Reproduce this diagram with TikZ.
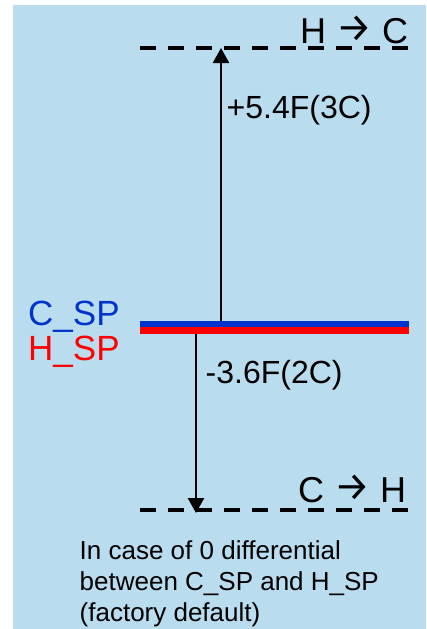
\documentclass[tikz,border=0pt]{standalone}
\usepackage{fontspec}
\setmainfont{Liberation Sans}
\newfontfamily\arrowfont{Fira Sans}
\usetikzlibrary{arrows.meta}
\definecolor{bgblue}{RGB}{185,220,238}
\definecolor{spblue}{RGB}{0,51,204}
\definecolor{spred}{RGB}{255,0,0}
\newcommand{\bigarrow}{{\arrowfont\fontsize{40}{48}\selectfont\raisebox{2pt}{→}}}
\begin{document}
\begin{tikzpicture}[x=1pt,y=-1pt,
  levelline/.style={line width=4pt, dash pattern=on 16pt off 12pt},
  bluebar/.style={line width=6.3pt, spblue},
  redbar/.style={line width=6.7pt, spred},
  arr/.style={line width=2.4pt, -{Triangle[width=16pt,length=15pt]}},
  lbl/.style={inner sep=0pt, anchor=base west},
  big/.style={font=\fontsize{36}{43}\selectfont},
  mid/.style={font=\fontsize{32}{38}\selectfont},
  sp/.style={font=\fontsize{35}{42}\selectfont},
  note/.style={font=\fontsize{26}{31}\selectfont, align=left}]
\useasboundingbox (0,0) rectangle (426,629);
\fill[bgblue] (13,5) rectangle (426,629);
% levels
\coordinate (topL) at (140,48);
\coordinate (topR) at (408,48);
\coordinate (botL) at (140,510);
\coordinate (botR) at (408,510);
\coordinate (barL) at (140,324.2);
\coordinate (barR) at (409,324.2);
\coordinate (rbarL) at (140,330.7);
\coordinate (rbarR) at (409,330.7);
\coordinate (upStart) at (221,324);
\coordinate (upEnd) at (221,48);
\coordinate (dnStart) at (196,327);
\coordinate (dnEnd) at (196,513);
\draw[levelline] (topL) -- (topR);
\draw[levelline] (botL) -- (botR);
\draw[arr] (upStart) -- (upEnd);
\draw[arr] (dnStart) -- (dnEnd);
\draw[bluebar] (barL) -- (barR);
\draw[redbar] (rbarL) -- (rbarR);
% labels
\node[lbl, big] (hc) at (300,43) {H \bigarrow{} C};
\node[lbl, big] (ch) at (298,502) {C \bigarrow{} H};
\node[lbl, mid] (up) at (226.5,118) {+5.4F(3C)};
\node[lbl, mid] (dn) at (205.5,383) {-3.6F(2C)};
\node[lbl, sp, text=spblue] (csp) at (28,325) {C\_SP};
\node[lbl, sp, text=spred] (hsp) at (28,360) {H\_SP};
\node[lbl, note] (nt) at (79.5,621) {In case of 0 differential\\between C\_SP and H\_SP\\(factory default)};
\end{tikzpicture}
\end{document}
